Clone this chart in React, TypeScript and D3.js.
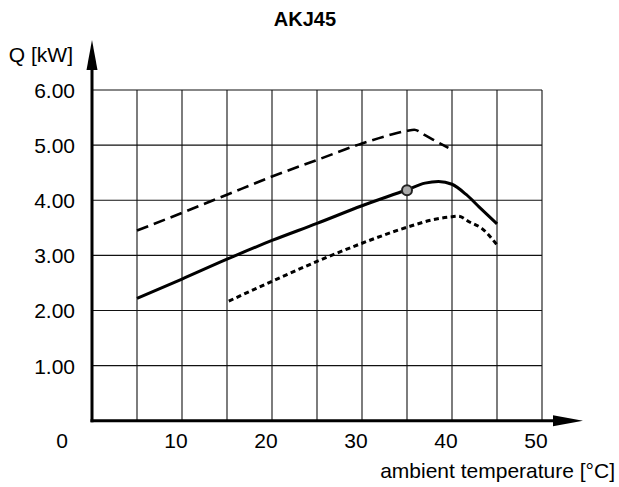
import React from "react";
import * as d3 from "d3";

const title = "AKJ45";
const yLabel = "Q [kW]";
const xLabel = "ambient temperature [°C]";
const xTicks = [0, 10, 20, 30, 40, 50];
const yTicks = [1, 2, 3, 4, 5, 6];
const xGrid = [5, 10, 15, 20, 25, 30, 35, 40, 45, 50];

const solidT = [5, 10, 15, 20, 25, 30, 35, 37, 38.5, 40, 41.6, 43, 45];
const solidQ = [2.22, 2.57, 2.93, 3.27, 3.58, 3.9, 4.19, 4.31, 4.34, 4.29, 4.1, 3.88, 3.57];

const dashedT = [5, 10, 15, 20, 25, 30, 33, 35, 35.8, 37, 38, 39.6];
const dashedQ = [3.45, 3.77, 4.1, 4.43, 4.73, 5.03, 5.18, 5.26, 5.28, 5.18, 5.09, 4.95];

const dottedT = [15.2, 20, 25, 30, 35, 38, 40, 40.7, 42, 43.3, 45];
const dottedQ = [2.17, 2.53, 2.89, 3.22, 3.51, 3.65, 3.7, 3.71, 3.6, 3.49, 3.19];

const markerT = [35];
const markerQ = [4.18];

export default function App() {
  const x = d3.scaleLinear().domain([0, 50]).range([92, 542]);
  const y = d3.scaleLinear().domain([0, 6]).range([420.7, 90]);
  const line = d3
    .line<[number, number]>()
    .x((d) => x(d[0]))
    .y((d) => y(d[1]))
    .curve(d3.curveMonotoneX);
  const zip = (a: number[], b: number[]) => a.map((v, i) => [v, b[i]] as [number, number]);
  const font = "'Liberation Sans', Arial, sans-serif";
  const fs = 21;
  const x0 = x(0);
  const y0 = y(0);
  return (
    <svg
      width={619}
      height={487}
      style={{ position: "absolute", left: 0, top: 0, background: "#fff" }}
      fontFamily={font}
    >
      <rect width={619} height={487} fill="#fff" />
      <text x={305} y={26} textAnchor="middle" fontWeight="bold" fontSize={20}>
        {title}
      </text>
      {/* grid */}
      {xGrid.map((t) => (
        <line key={"gx" + t} x1={x(t)} x2={x(t)} y1={y(6)} y2={y0} stroke="#111" strokeWidth={1.1} />
      ))}
      {yTicks.map((q) => (
        <line key={"gy" + q} x1={x0} x2={x(50)} y1={y(q)} y2={y(q)} stroke="#111" strokeWidth={1.1} />
      ))}
      {/* axes */}
      <line x1={x0} x2={x0} y1={y0 + 1.5} y2={62} stroke="#000" strokeWidth={3} />
      <polygon points={`${x0},40 ${x0 - 5.5},70 ${x0 + 5.5},70`} fill="#000" />
      <line x1={x0 - 1.5} x2={560} y1={y0} y2={y0} stroke="#000" strokeWidth={3} />
      <polygon points={`583,${y0} 553,${y0 - 5.5} 553,${y0 + 5.5}`} fill="#000" />
      {/* labels */}
      <text x={73} y={62} textAnchor="end" fontSize={fs}>
        {yLabel}
      </text>
      {yTicks.map((q) => (
        <text key={"ty" + q} x={75} y={y(q) + 8} textAnchor="end" fontSize={fs}>
          {q.toFixed(2)}
        </text>
      ))}
      {xTicks.map((t) => (
        <text
          key={"tx" + t}
          x={t === 0 ? x(t) - 30 : x(t) - 6}
          y={448}
          textAnchor="middle"
          fontSize={fs}
        >
          {t}
        </text>
      ))}
      <text x={615} y={478} textAnchor="end" fontSize={fs}>
        {xLabel}
      </text>
      {/* curves */}
      <path d={line(zip(dashedT, dashedQ)) || ""} fill="none" stroke="#000" strokeWidth={2.6} strokeDasharray="12,6" />
      <path d={line(zip(dottedT, dottedQ)) || ""} fill="none" stroke="#000" strokeWidth={3} strokeDasharray="5,3.5" />
      <path d={line(zip(solidT, solidQ)) || ""} fill="none" stroke="#000" strokeWidth={3} />
      {markerT.map((t, i) => (
        <circle key={"m" + i} cx={x(t)} cy={y(markerQ[i])} r={5} fill="#aaa" stroke="#222" strokeWidth={2} />
      ))}
    </svg>
  );
}
